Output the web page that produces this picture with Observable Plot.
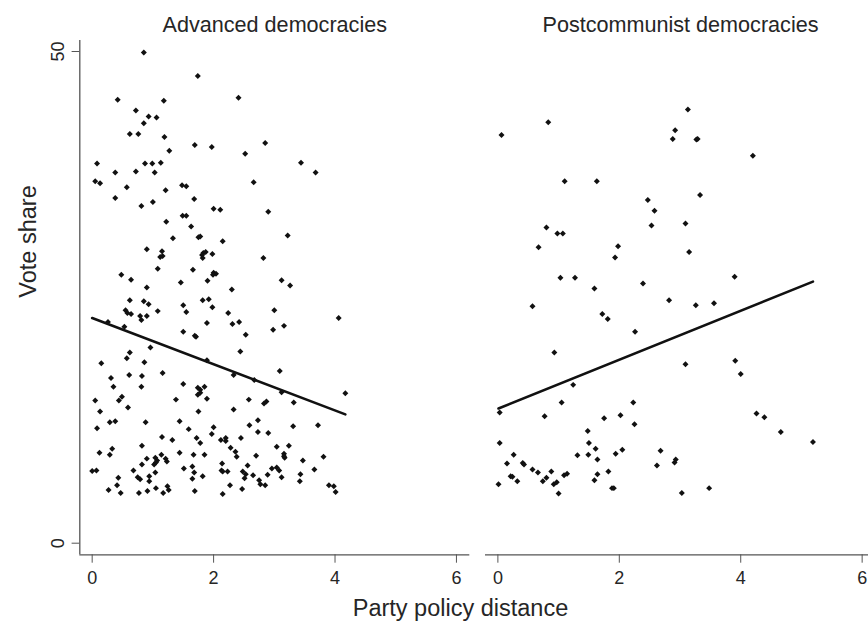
<!DOCTYPE html>
<html><head><meta charset="utf-8">
<script src="https://cdn.jsdelivr.net/npm/d3@7"></script>
<script src="https://cdn.jsdelivr.net/npm/@observablehq/plot@0.6"></script>
<style>
html,body{margin:0;padding:0;background:#fff;overflow:hidden;}
#chart{position:relative;width:868px;height:622px;overflow:hidden;font-family:"Liberation Sans",Arial,sans-serif;}
#chart svg{position:absolute;left:0;top:0;max-width:none !important;overflow:visible;}
</style></head><body><div id="chart"></div>
<script>
const panelTitles = ["Advanced democracies", "Postcommunist democracies"];
const xTitle = "Party policy distance";
const yTitle = "Vote share";
const xTicks = [0, 2, 4, 6];
const yTicks = [0, 50];
const xDomain = [-0.204, 6.22];
const yDomain = [-1.18, 51.12];

// [party policy distance, vote share]
const advanced = [
[0.85,49.9],[1.74,47.5],[0.42,45.1],[1.18,45.0],[2.41,45.3],[0.72,44.0],[0.93,43.4],[1.06,43.3],[0.85,42.7],[0.62,41.6],
[0.76,41.6],[1.19,41.3],[1.27,39.9],[1.69,40.5],[1.97,40.3],[2.52,39.6],[0.08,38.6],[0.38,37.7],[0.72,37.8],[0.87,38.6],
[0.99,38.6],[1.13,38.7],[1.03,37.7],[0.05,36.8],[0.13,36.6],[0.57,36.2],[0.38,35.1],[0.81,34.3],[1.0,34.7],[1.21,35.9],
[1.48,36.4],[1.55,36.3],[1.68,35.0],[2.0,34.0],[2.11,33.9],[2.66,36.7],[1.22,32.7],[1.49,33.3],[1.55,33.3],[1.63,32.2],
[1.33,31.0],[1.75,31.1],[1.78,31.2],[2.15,30.7],[0.9,29.9],[1.15,29.7],[1.12,29.1],[1.16,29.2],[1.83,29.5],[1.81,29.3],
[1.82,29.0],[1.87,29.6],[1.98,29.4],
[2.85,40.7],[3.44,38.7],[3.68,37.7],[2.9,33.7],[3.22,31.3],[2.82,29.0],
[1.08,27.9],[1.66,27.8],[0.48,27.3],[0.64,26.8],[2.0,27.5],[2.04,27.4],[1.99,27.3],[1.9,26.7],[1.46,26.5],[0.9,26.0],
[2.3,25.8],[0.62,24.7],[0.85,24.6],[0.93,24.3],[0.55,23.7],[0.58,23.4],[0.64,23.3],[0.79,23.1],[0.81,22.7],[0.9,23.1],
[1.08,23.6],[1.5,24.2],[1.55,23.5],[1.82,24.7],[1.92,24.8],[1.98,24.0],[2.24,23.4],[2.31,22.3],[2.42,22.5],[1.89,22.4],
[2.53,21.2],[1.5,21.5],[1.69,21.1],[1.71,21.0],[2.44,19.5],[0.26,22.5],[0.53,22.0],[0.96,19.9],[0.62,19.4],[0.57,18.8],
[0.15,18.3],[0.86,18.4],[1.89,18.6],[2.33,17.1],[2.67,16.6],[0.31,16.8],[0.35,15.9],[0.61,17.1],[0.82,17.0],[0.81,15.9],
[1.16,17.3],[1.5,16.2],[1.74,15.8],[1.78,15.6],[1.85,15.9],[1.74,15.1],[1.78,15.3],[1.89,14.7],[0.05,14.5],[0.13,13.4],
[0.08,11.7],[0.49,14.9],[0.44,14.5],[0.59,13.8],[0.29,12.3],[0.38,12.4],[0.88,12.3],[1.38,14.6],[1.75,13.4],[2.33,13.6],
[2.58,14.6],[1.44,12.4],[1.59,11.6],[2.0,11.8],[1.97,11.1],[2.59,12.0],[2.73,12.5],[2.73,11.3],[1.15,10.8],[1.32,10.5],
[1.72,10.7],[1.78,10.2],[2.12,10.5],[2.2,10.7],[2.2,10.4],[2.45,10.7],[2.28,9.7],[2.36,9.3],[2.38,8.8],[2.7,8.9],
[0.12,9.2],[0.33,9.6],[0.29,9.0],[0.82,9.9],[1.44,9.2],[1.67,9.0],[1.85,9.0],[1.14,9.0],[1.21,8.6],[1.23,8.3],
[0.9,8.6],[1.04,8.7],[1.07,8.4],[1.02,8.0],[1.05,8.2],[0.82,8.0],[0.0,7.35],[0.07,7.4],[0.68,7.4],[1.04,7.2],
[0.94,6.8],[0.75,6.7],[0.79,6.5],[0.43,6.65],[0.41,5.9],[0.94,6.3],[0.27,5.4],[0.47,5.1],[0.77,5.1],[0.91,5.3],
[1.05,5.6],[1.17,5.1],[1.26,5.4],[1.24,5.8],[1.51,7.6],[1.65,7.8],[1.68,7.2],[1.65,6.55],[1.82,6.8],[1.69,5.3],
[2.14,8.1],[2.13,7.4],[2.15,7.3],[2.23,7.3],[2.27,5.9],[2.15,5.0],[2.48,7.3],[2.53,7.0],[2.51,6.6],[2.56,7.9],
[2.47,5.5],[2.65,6.9],[2.75,6.4],
[3.12,26.75],[3.26,26.2],[3.0,23.7],[2.98,21.7],[3.16,22.1],[4.06,22.9],[3.09,17.5],[3.12,15.35],[4.17,15.25],[2.83,14.2],
[2.87,14.4],[3.32,14.3],[2.9,11.2],[3.31,11.9],[3.72,12.0],[3.04,9.8],[3.24,9.9],[3.16,9.1],[3.17,8.7],[3.16,8.85],
[3.47,8.4],[3.81,8.8],[3.66,7.5],[2.96,7.6],[3.04,7.7],[3.08,7.4],[2.89,6.95],[3.12,6.7],[3.43,7.0],[3.42,6.3],
[2.77,6.0],[2.85,5.9],[3.9,5.9],[3.98,5.8],[4.01,5.2]
];

const postcommunist = [
[0.83,42.8],[0.06,41.5],[1.1,36.8],[1.63,36.8],[2.47,34.9],[2.58,33.8],[2.53,32.3],[0.8,32.1],[0.98,31.5],[1.07,31.5],
[0.67,30.1],[1.98,30.2],[1.93,29.05],[1.03,27.0],[1.27,27.0],[1.59,25.9],[2.39,26.4],
[3.13,44.1],[2.92,42.0],[2.88,41.1],[3.27,41.05],[3.29,41.1],[4.2,39.4],[3.33,35.4],[3.09,32.5],[3.15,29.6],[3.9,27.1],
[2.82,24.7],[0.57,24.1],[1.72,23.3],[1.81,22.8],[2.26,21.5],[0.93,19.4],[1.24,16.1],[1.05,14.3],[2.23,14.3],[0.03,13.3],
[0.77,12.9],[1.75,12.7],[2.02,13.0],[2.25,12.1],[1.48,11.4],[0.03,10.2],[1.5,10.2],[1.61,9.6],[1.94,9.1],[2.05,9.5],
[1.31,8.95],[1.49,9.0],[1.64,8.5],[2.68,9.4],[2.62,7.9],[0.26,9.0],[0.15,8.1],[0.41,8.15],[0.43,8.0],[0.57,7.5],
[0.66,7.2],[0.88,7.3],[0.21,6.8],[0.24,6.75],[0.32,6.3],[0.74,6.3],[0.8,6.65],[0.92,6.0],[0.97,6.2],[1.09,6.9],
[1.14,7.05],[0.01,6.0],[1.0,5.05],[1.64,7.0],[1.59,6.4],[1.82,7.3],[1.88,5.6],[1.91,5.6],
[3.26,24.2],[3.56,24.4],[3.09,18.2],[3.91,18.55],[4.0,17.2],[4.26,13.2],[4.39,12.8],[4.66,11.3],[5.19,10.3],[2.91,8.2],
[2.93,8.5],[3.03,5.1],[3.48,5.6]
];

// fitted lines (endpoints)
const advancedFit = [[0.0, 22.9], [4.17, 13.1]];
const postcommunistFit = [[0.01, 13.7], [5.19, 26.6]];

const FONT = "'Liberation Sans', Arial, Helvetica, sans-serif";
const W = 876, H = 622;
const AXIS = "#555", TEXT = "#262626", INK = "#111";
const fmt = d => String(d);

const base = {
  width: W, height: H, marginTop: 40, marginBottom: 67.7,
  x: {domain: xDomain},
  style: `max-width:none;overflow:visible;background:transparent;font-family:${FONT};`
};

const left = Plot.plot({
  ...base,
  marginLeft: 79.3, marginRight: W - 469.3,
  y: {domain: yDomain},
  marks: [
    Plot.ruleY([yDomain[0]], {stroke: AXIS, strokeWidth: 1.3}),
    Plot.ruleX([xDomain[0]], {stroke: AXIS, strokeWidth: 1.3}),
    Plot.axisX({ticks: xTicks, tickFormat: fmt, tickSize: 8.4, tickPadding: 8, fontSize: 18, label: null, stroke: AXIS, fill: TEXT}),
    Plot.axisY({ticks: yTicks, tickFormat: fmt, tickSize: 7.7, tickPadding: 8, tickRotate: -90, fontSize: 18, label: null, stroke: AXIS, fill: TEXT}),
    Plot.dot(advanced, {x: d => d[0], y: d => d[1], symbol: "diamond2", r: 2.7, fill: INK, stroke: "none"}),
    Plot.line(advancedFit, {x: d => d[0], y: d => d[1], stroke: INK, strokeWidth: 2.6}),
    Plot.text([panelTitles[0]], {frameAnchor: "top", dy: -9, lineAnchor: "bottom", fontSize: 21.6, fill: TEXT}),
    Plot.text([yTitle], {frameAnchor: "left", rotate: -90, dx: -44.3, lineAnchor: "bottom", fontSize: 23.5, fill: TEXT}),
    Plot.text([xTitle], {frameAnchor: "bottom", dx: 460 - 274.3, dy: 60.7, lineAnchor: "bottom", fontSize: 23.5, fill: TEXT})
  ]
});

const right = Plot.plot({
  ...base,
  marginLeft: 485, marginRight: 1,
  y: {domain: yDomain, axis: null},
  marks: [
    Plot.ruleY([yDomain[0]], {stroke: AXIS, strokeWidth: 1.3}),
    Plot.axisX({ticks: xTicks, tickFormat: fmt, tickSize: 8.4, tickPadding: 8, fontSize: 18, label: null, stroke: AXIS, fill: TEXT}),
    Plot.dot(postcommunist, {x: d => d[0], y: d => d[1], symbol: "diamond2", r: 2.7, fill: INK, stroke: "none"}),
    Plot.line(postcommunistFit, {x: d => d[0], y: d => d[1], stroke: INK, strokeWidth: 2.6}),
    Plot.text([panelTitles[1]], {frameAnchor: "top", dy: -9, lineAnchor: "bottom", fontSize: 21.6, fill: TEXT})
  ]
});

const chart = document.getElementById("chart");
chart.appendChild(left);
chart.appendChild(right);
</script>
</body></html>
